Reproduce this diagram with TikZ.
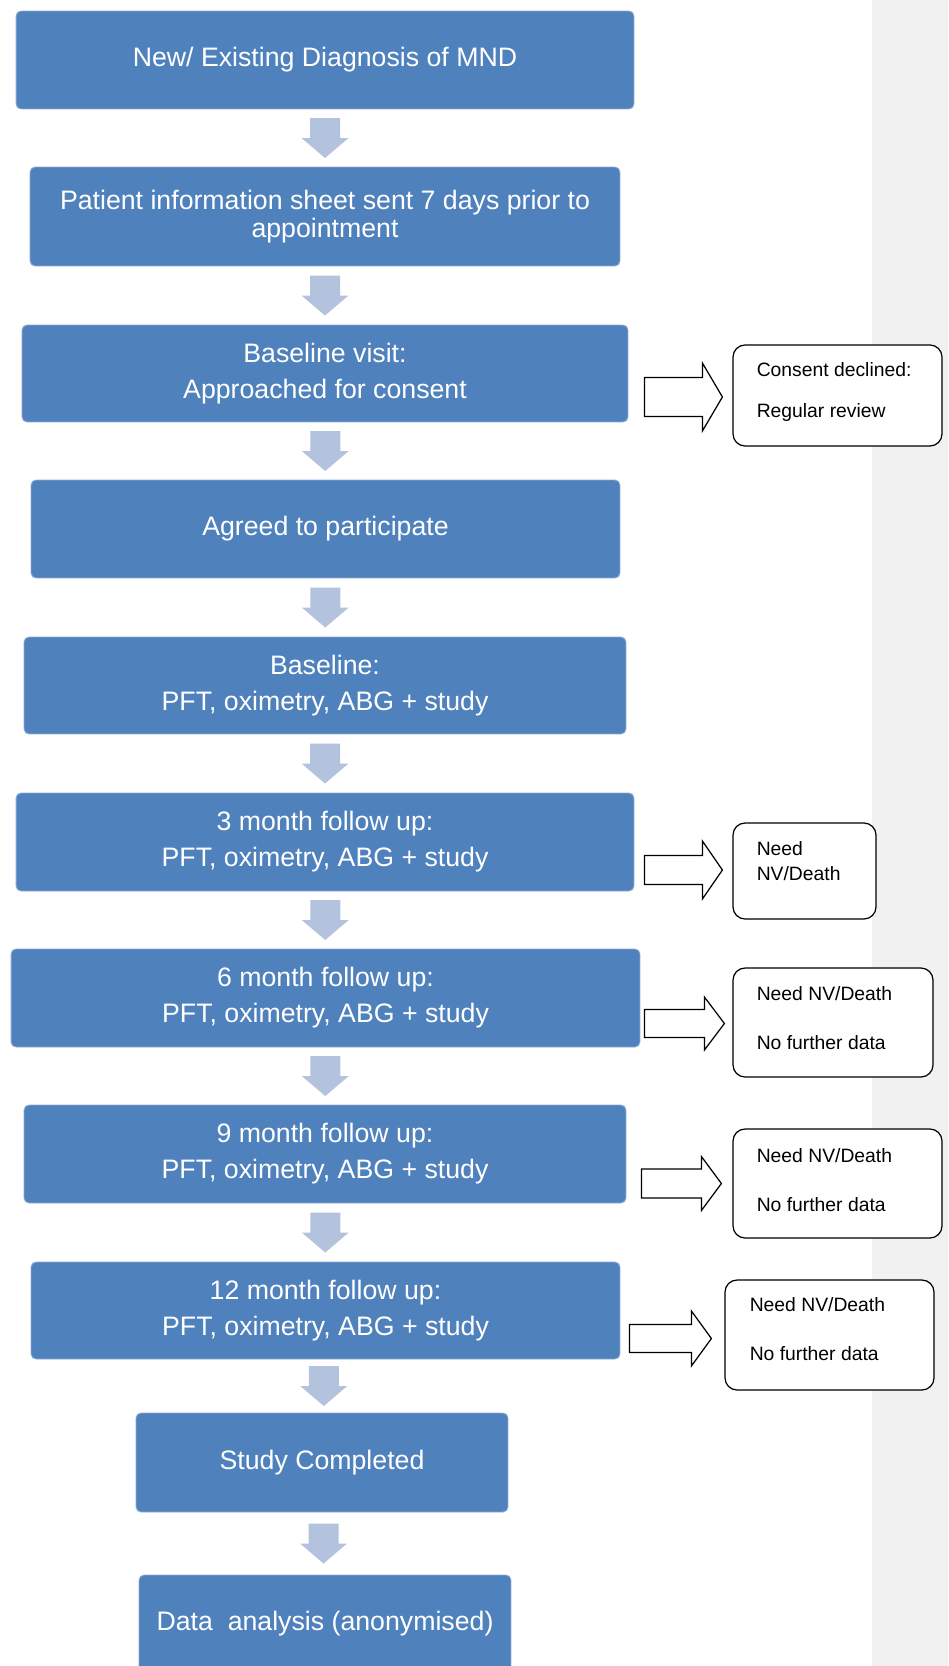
\documentclass[tikz,border=0pt]{standalone}
\usepackage{fontspec}
\setmainfont{Liberation Sans}
\usetikzlibrary{calc}

\newcommand{\mainFont}{\fontsize{15.2}{15.5}\selectfont}
\newcommand{\sideFont}{\fontsize{11}{14}\selectfont}

\begin{document}
\begin{tikzpicture}[x=0.02cm, y=-0.02cm,
    mainBox/.style={rectangle, rounded corners=0.1cm, fill=boxFill, draw=boxEdge, line width=0.5pt,
        text=white, font=\mainFont, align=center, inner sep=0pt, minimum height=1.96cm},
    sideBox/.style={rectangle, rounded corners=0.24cm, draw=black, line width=0.7pt, fill=white, inner sep=0pt},
    sideText/.style={anchor=north west, inner sep=0pt, align=left, font=\sideFont},
    downArrow/.style={fill=arrowFill},
    hollowArrow/.style={draw=black, fill=white, line width=0.7pt, line join=miter}]
    \definecolor{boxFill}{HTML}{4F81BD}
    \definecolor{boxEdge}{HTML}{8FAAD3}
    \definecolor{arrowFill}{HTML}{B3C2DD}
    \definecolor{stripFill}{HTML}{F1F1F1}

    \useasboundingbox (0,0) rectangle (948,1666);

    % Grey strip at the right edge
    \fill[stripFill] (872,0) rectangle (948,1666);

    % Main steps
    \node[mainBox, minimum width=12.36cm] (b1) at (325,60) {New/ Existing Diagnosis of MND};
    \node[mainBox, minimum width=11.8cm, minimum height=1.98cm] (b2) at (325,216.5) {Patient information sheet sent 7 days prior to\\appointment};
    \node[mainBox, minimum width=12.12cm, minimum height=1.94cm] (b3) at (325,373.5) {Baseline visit:\\[5pt]Approached for consent};
    \node[mainBox, minimum width=11.78cm] (b4) at (325.5,529) {Agreed to participate};
    \node[mainBox, minimum width=12.04cm, minimum height=1.94cm] (b5) at (325,685.5) {Baseline:\\[5pt]PFT, oximetry, ABG + study};
    \node[mainBox, minimum width=12.36cm] (b6) at (325,842) {3 month follow up:\\[5pt]PFT, oximetry, ABG + study};
    \node[mainBox, minimum width=12.58cm] (b7) at (325.5,998) {6 month follow up:\\[5pt]PFT, oximetry, ABG + study};
    \node[mainBox, minimum width=12.04cm] (b8) at (325,1154) {9 month follow up:\\[5pt]PFT, oximetry, ABG + study};
    \node[mainBox, minimum width=11.78cm, minimum height=1.94cm] (b9) at (325.5,1310.5) {12 month follow up:\\[5pt]PFT, oximetry, ABG + study};
    \node[mainBox, minimum width=7.44cm, minimum height=1.98cm] (b10) at (322,1462.5) {Study Completed};
    \node[mainBox, minimum width=7.44cm] (b11) at (325,1624) {Data\ \ analysis (anonymised)};

    % Block arrows between the steps
    \foreach \a/\b in {b1/b2, b2/b3, b3/b4, b4/b5, b5/b6, b6/b7, b7/b8, b8/b9, b9/b10, b10/b11}
        \fill[downArrow] ($(\a.south)!0.5!(\b.north)$) ++(-15,-20) -- ++(30,0) -- ++(0,20) -- ++(8.5,0)
            -- ++(-23.5,20) -- ++(-23.5,-20) -- ++(8.5,0) -- cycle;

    % Side outcomes
    \node[sideBox, minimum width=4.18cm, minimum height=2.02cm] (s1) at (837.5,395.5) {};
    \node[sideBox, minimum width=2.86cm, minimum height=1.92cm] (s2) at (804.5,871) {};
    \node[sideBox, minimum width=4.0cm, minimum height=2.18cm] (s3) at (833,1022.5) {};
    \node[sideBox, minimum width=4.18cm, minimum height=2.18cm] (s4) at (837.5,1183.5) {};
    \node[sideBox, minimum width=4.18cm, minimum height=2.2cm] (s5) at (829.5,1335) {};

    \node[sideText] (t1) at ($(s1.north west)+(24,18)$) {Consent declined:\\[9.3pt]Regular review};
    \node[sideText] (t2) at ($(s2.north west)+(24,19)$) {Need\\NV/Death};
    \node[sideText] (t3) at ($(s3.north west)+(24,19)$) {Need NV/Death\\[14pt]No further data};
    \node[sideText] (t4) at ($(s4.north west)+(24,20)$) {Need NV/Death\\[14pt]No further data};
    \node[sideText] (t5) at ($(s5.north west)+(25,18)$) {Need NV/Death\\[14pt]No further data};

    % Hollow arrows into the side boxes
    \foreach \tgt/\dx/\dy/\len/\sh/\hh in {s1/88/1.5/78/19.5/34, s2/88/-1/78/14.5/29, s3/88/1/80/14/26.5, s4/91/0/80/14.5/27, s5/95/3.5/82/14/27.5}
        \draw[hollowArrow] ($(\tgt.west)+(-\dx,\dy)$) ++(0,-\sh) -- ++({\len-20},0) -- ++(0,{\sh-\hh})
            -- ++(20,\hh) -- ++(-20,\hh) -- ++(0,{\sh-\hh}) -- ++({20-\len},0) -- cycle;

\end{tikzpicture}
\end{document}
